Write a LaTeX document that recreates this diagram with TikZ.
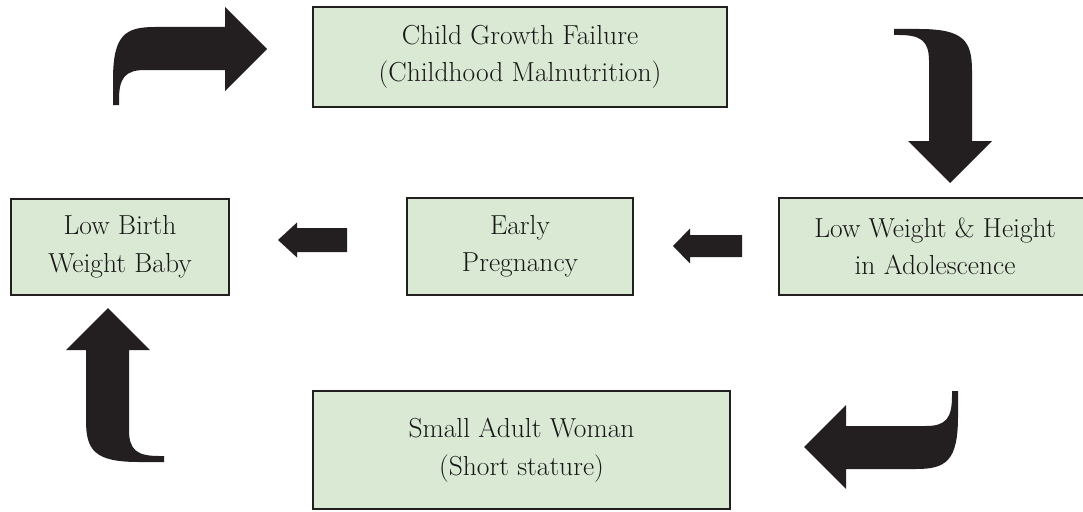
\documentclass[tikz,border=0pt]{standalone}
\usepackage{fontspec}
\definecolor{boxfill}{HTML}{D9E9D4}
\definecolor{boxline}{HTML}{231F20}
\definecolor{arrowfill}{HTML}{231F20}
\definecolor{textcol}{HTML}{1A1718}
\tikzset{
  box/.style={draw=boxline, line width=2.8pt, fill=boxfill, inner sep=0pt,
    align=center, text=textcol, font=\fontsize{27.5}{37.5}\selectfont},
  bentarrow/.pic={
    \fill[arrowfill] (-154,56) -- (-154,31)
      .. controls (-154,-14) and (-142,-22) .. (-112,-22)
      -- (-42,-22) -- (-42,-42) -- (0,0) -- (-42,42) -- (-42,21)
      -- (-122,21) .. controls (-142,21) and (-148,29) .. (-148,51)
      -- (-148,56) -- cycle;
  }
}
\begin{document}
\begin{tikzpicture}[x=1pt,y=-1pt]
\useasboundingbox (0,0) rectangle (1083,511);
\fill[white] (0,0) rectangle (1083,511);

% boxes
\node[box, minimum width=414pt, minimum height=100pt] (cgf) at (520,57)
  {Child Growth Failure\\(Childhood Malnutrition)};
\node[box, minimum width=218pt, minimum height=96pt] (lbw) at (120,247)
  {Low Birth\\Weight Baby};
\node[box, minimum width=226pt, minimum height=97pt] (ep) at (520,246.5)
  {Early\\Pregnancy};
\node[box, minimum width=312pt, minimum height=97pt] (lwh) at (935,246.5)
  {Low Weight \& Height\\in Adolescence};
\node[box, minimum width=417pt, minimum height=118pt] (saw) at (521.5,450)
  {Small Adult Woman\\(Short stature)};

% bent block arrows
\pic at (267,49) {bentarrow};
\pic[rotate=-90] at (950,183) {bentarrow};
\pic[rotate=180] at (804,447) {bentarrow};
\pic[rotate=90] at (108,308) {bentarrow};

% straight block arrows
\fill[arrowfill] (278,240) -- (297,222.5) -- (297,228) -- (347,228)
  -- (347,252) -- (297,252) -- (297,257.5) -- cycle;
\fill[arrowfill] (673,246) -- (690,228.5) -- (690,235) -- (742,235)
  -- (742,257) -- (690,257) -- (690,263.5) -- cycle;
\end{tikzpicture}
\end{document}
